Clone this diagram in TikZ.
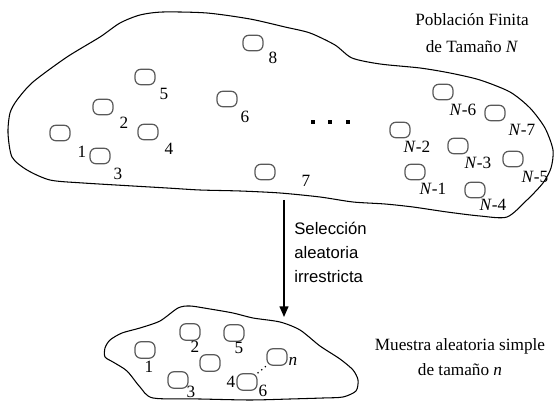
\documentclass[tikz,border=0pt]{standalone}
\usepackage{fontspec}
\setmainfont{Liberation Serif}
\setsansfont{Liberation Sans}
\usetikzlibrary{arrows.meta, positioning}

\begin{document}
\begin{tikzpicture}[
        x=0.02cm, y=-0.02cm,
        unit/.style={rectangle, draw=black!65, line width=0.7pt, rounded corners=3.4pt, minimum width=0.40cm, minimum height=0.31cm, inner sep=0pt},
        sunit/.style={unit, minimum height=0.33cm},
        lbl/.style={inner sep=0pt, font=\fontsize{9.8}{11}\selectfont},
        blob/.style={draw=black, line width=0.6pt},
        arrow/.style={-{Triangle[length=6pt, width=5pt]}, draw=black, line width=0.9pt}
    ]
        \useasboundingbox (0,0) rectangle (555,401);

        % poblacion
        \draw[blob] plot[smooth cycle, tension=0.45] coordinates {
            (8,133) (10,113) (17,100) (33,82) (67,57) (100,37) (120,23) (140,15) (163,12)
            (207,13) (250,19) (285,27) (310,33) (335,45) (352,58) (380,64) (420,68)
            (450,73) (480,80) (510,92) (530,108) (545,128) (553,150) (551,168) (543,183)
            (527,200) (507,217) (480,216) (447,212) (413,207) (385,204) (353,202)
            (320,197) (280,193) (240,191) (200,190) (167,188) (83,183) (50,180) (27,170) (12,157)};

        \node[unit] (p1) at (60,133) {};
        \node[unit] (p2) at (103,107) {};
        \node[unit] (p3) at (100,156) {};
        \node[unit] (p4) at (148,132) {};
        \node[unit] (p5) at (145,77) {};
        \node[unit] (p6) at (227,99) {};
        \node[unit] (p7) at (265,172) {};
        \node[unit] (p8) at (253,43) {};
        \node[unit] (pN1) at (415,172) {};
        \node[unit] (pN2) at (400,130) {};
        \node[unit] (pN3) at (458,146) {};
        \node[unit] (pN4) at (475,190) {};
        \node[unit] (pN5) at (513,159) {};
        \node[unit] (pN6) at (443,92) {};
        \node[unit] (pN7) at (495,113) {};

        \node[lbl] (l1) at (82,152) {1};
        \node[lbl] (l2) at (124,123) {2};
        \node[lbl] (l3) at (118,174) {3};
        \node[lbl] (l4) at (169,149) {4};
        \node[lbl] (l5) at (164,94) {5};
        \node[lbl] (l6) at (245,117) {6};
        \node[lbl] (l7) at (306,181) {7};
        \node[lbl] (l8) at (273,58) {8};
        \node[lbl] (lN1) at (433,189) {\textit{N}-1};
        \node[lbl] (lN2) at (417,147) {\textit{N}-2};
        \node[lbl] (lN3) at (478,163) {\textit{N}-3};
        \node[lbl] (lN4) at (493,205) {\textit{N}-4};
        \node[lbl] (lN5) at (535,177) {\textit{N}-5};
        \node[lbl] (lN6) at (463,110) {\textit{N}-6};
        \node[lbl] (lN7) at (522,130) {\textit{N}-7};

        \foreach \px in {313,330,348}
            \fill (\px-2,120) rectangle (\px+2,124);

        \node[lbl, align=center, font=\fontsize{9.8}{15}\selectfont] (poblacion) at (472,33) {Población Finita\\de Tamaño \textit{N}};

        % seleccion
        \coordinate (selTop) at (284,200);
        \coordinate (selBot) at (284,317);
        \draw[arrow] (selTop) -- (selBot);
        \node[lbl, align=left, anchor=north west, font=\sffamily\fontsize{9.5}{13.5}\selectfont] (seleccion) at (294,222) {Selección\\aleatoria\\irrestricta};

        % muestra
        \draw[blob] plot[smooth cycle, tension=0.45] coordinates {
            (105,348) (110,340) (122,333) (140,328) (160,321) (178,308) (190,306)
            (210,309) (233,313) (253,318) (280,322) (300,330) (320,346) (340,359)
            (353,370) (358,380) (356,391) (343,397) (323,398) (290,399) (250,400)
            (200,399) (153,398) (140,387) (127,371) (113,362) (105,357)};

        \node[sunit] (s1) at (145,350) {};
        \node[sunit] (s2) at (190,332) {};
        \node[sunit] (s3) at (178,380) {};
        \node[sunit] (s4) at (247,382) {};
        \node[sunit] (s5) at (234,333) {};
        \node[sunit] (s6) at (210,363) {};
        \node[sunit] (sn) at (277,357) {};

        \node[lbl] (m1) at (149,367) {1};
        \node[lbl] (m2) at (195,347) {2};
        \node[lbl] (m3) at (191,392) {3};
        \node[lbl] (m4) at (231,382) {4};
        \node[lbl] (m5) at (239,348) {5};
        \node[lbl] (m6) at (263,391) {6};
        \node[lbl] (mn) at (293,361) {\textit{n}};

        \draw[dotted, line width=0.7pt] (s4) -- (sn);

        \node[lbl, align=center, font=\fontsize{9.8}{14}\selectfont] (muestra) at (460,357) {Muestra aleatoria simple\\de tamaño \textit{n}};
    \end{tikzpicture}
\end{document}
